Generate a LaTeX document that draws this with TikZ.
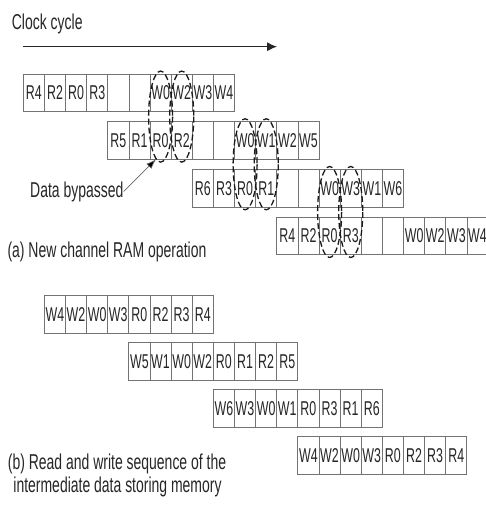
\documentclass[tikz,border=0pt]{standalone}
\usepackage{fontspec}
\newfontfamily\cellfont[FakeStretch=0.62]{Liberation Sans}
\newfontfamily\labfont[FakeStretch=0.65]{Liberation Sans}
\usetikzlibrary{arrows.meta,calc}
\begin{document}
\begin{tikzpicture}[x=1pt,y=-1pt,
  cell/.style={draw=black!55, line width=0.7pt, minimum width=21.125pt, minimum height=37.5pt,
    inner sep=0pt, outer sep=0pt, anchor=north west, text=black!85,
    font=\cellfont\fontsize{20}{20}\selectfont},
  lab/.style={inner sep=0pt, text=black!85, font=\labfont\fontsize{21.5}{21.5}\selectfont},
  bypass/.style={draw=black!90, line width=1.3pt, dash pattern=on 6pt off 3pt},
  pointer/.style={draw=black!60, line width=0.7pt, -{Latex[length=10pt,width=7pt,fill=black]}},
  timeline/.style={draw=black!85, line width=1pt, -{Latex[length=10pt,width=9pt]}}
]
\useasboundingbox (0,0) rectangle (485,505);

% title and time arrow
\node[lab, anchor=base west] (clk) at (11.7,29.3) {Clock cycle};
\coordinate (a0) at (23.3,46.7);
\coordinate (a1) at (277,46.7);
\draw[timeline] (a0) -- (a1);

% (a) rows
\foreach \r/\x/\y/\lst in {
  1/23.3/74/{R4,R2,R0,R3,{},{},W0,W2,W3,W4},
  2/107.8/121.7/{R5,R1,R0,R2,{},{},W0,W1,W2,W5},
  3/192.3/169.4/{R6,R3,R0,R1,{},{},W0,W3,W1,W6},
  4/276.8/217.1/{R4,R2,R0,R3,{},{},W0,W2,W3,W4}} {
  \foreach \t [count=\c] in \lst {
    \node[cell] (t\r-\c) at ({\x+(\c-1)*21.125},\y) {\t};
  }
}

% (b) rows
\foreach \r/\x/\y/\lst in {
  1/44.3/295.5/{W4,W2,W0,W3,R0,R2,R3,R4},
  2/128.8/342.6/{W5,W1,W0,W2,R0,R1,R2,R5},
  3/213.3/389.7/{W6,W3,W0,W1,R0,R3,R1,R6},
  4/297.8/436.8/{W4,W2,W0,W3,R0,R2,R3,R4}} {
  \foreach \t [count=\c] in \lst {
    \node[cell] (b\r-\c) at ({\x+(\c-1)*21.125},\y) {\t};
  }
}

% bypass ellipses
\foreach \a/\b in {t1-7/t2-3, t1-8/t2-4, t2-7/t3-3, t2-8/t3-4, t3-7/t4-3, t3-8/t4-4} {
  \draw[bypass] ($(\a.north)!0.5!(\b.south)$) ellipse [x radius=12, y radius=45.5];
}

% data bypassed label
\node[lab, anchor=base west] (db) at (30,197) {Data bypassed};
\coordinate (tip) at ($(t2-3.south west)+(6,0)$);
\draw[pointer] (db.east) -- (tip);

% captions
\node[lab, anchor=base west] (capa) at (7.3,257.7) {(a) New channel RAM operation};
\node[lab, anchor=base] (capb1) at (117,469.3) {(b) Read and write sequence of the};
\node[lab, anchor=base] (capb2) at (117.5,492.7) {intermediate data storing memory};
\end{tikzpicture}
\end{document}
